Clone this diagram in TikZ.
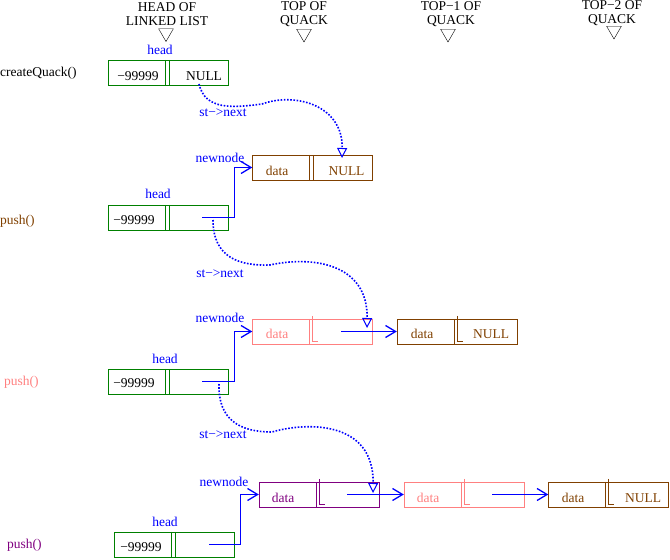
\documentclass[tikz,border=0pt]{standalone}
\usepackage{fontspec}
\setmainfont{Liberation Serif}
\usetikzlibrary{arrows.meta,shapes.geometric}
\definecolor{hgreen}{RGB}{0,128,0}
\definecolor{nbrown}{RGB}{128,64,0}
\definecolor{npink}{RGB}{255,128,128}
\definecolor{npurple}{RGB}{128,0,128}

\begin{document}
\begin{tikzpicture}[x=1pt, y=-1pt,
		every node/.style={inner sep=0pt, font=\fontsize{13.5}{14}\selectfont},
		box/.style={draw, minimum width=120pt, minimum height=25pt},
		lbl/.style={blue},
		tri/.style={draw, regular polygon, regular polygon sides=3, shape border rotate=180, minimum size=17pt},
		ptr/.style={blue, line width=1pt, -{Straight Barb[length=10pt, width=12pt, line width=1.3pt]}},
		nxt/.style={blue, line width=1.6pt, dash pattern=on 1.6pt off 1.6pt, -{Triangle[open, length=10pt, width=10pt, line width=1pt]}}]
			\useasboundingbox (0,0) rectangle (670,560);

			% Headers
			\node[align=center] (thead) at (167,14.5) {HEAD OF\\LINKED LIST};
			\node[align=center] (ttop) at (304,14.5) {TOP OF\\QUACK};
			\node[align=center] (ttop1) at (451,14.5) {TOP−1 OF\\QUACK};
			\node[align=center] (ttop2) at (612,13.5) {TOP−2 OF\\QUACK};
			\node[tri] (vhead) at (166,33) {};
			\node[tri] (vtop) at (304,33.5) {};
			\node[tri] (vtop1) at (448,33.5) {};
			\node[tri] (vtop2) at (614,30.5) {};

			% createQuack()
			\node[anchor=west] (call1) at (0,73) {createQuack()};
			\node[lbl] (head1) at (160,50) {head};
			\node[box, hgreen] (h1) at (168,72.5) {};
			\node (h1v) at (138,76) {−99999};
			\node (h1n) at (204,76) {NULL};
			\node[lbl] (st1) at (223,113) {st−>next};

			% first push()
			\node[anchor=west, nbrown] (call2) at (0,221) {push()};
			\node[lbl] (head2) at (158,194) {head};
			\node[box, hgreen] (h2) at (168,217.5) {};
			\node (h2v) at (134,220) {−99999};
			\node[lbl] (new2) at (220,158) {newnode};
			\node[box, nbrown] (d2) at (312.5,167.5) {};
			\node[nbrown] (d2a) at (277,171) {data};
			\node[nbrown] (d2n) at (346.5,171) {NULL};
			\node[lbl] (st2) at (220,274) {st−>next};

			% second push()
			\node[anchor=west, npink] (call3) at (4,382) {push()};
			\node[lbl] (head3) at (165,359) {head};
			\node[box, hgreen] (h3) at (168,381.5) {};
			\node (h3v) at (134,383) {−99999};
			\node[lbl] (new3) at (220,318) {newnode};
			\node[box, npink] (p3) at (312.5,331.5) {};
			\node[npink] (p3a) at (277,334) {data};
			\node[box, nbrown] (b3) at (457,331.5) {};
			\node[nbrown] (b3a) at (422,334) {data};
			\node[nbrown] (b3n) at (491,334) {NULL};
			\node[lbl] (st3) at (223,435) {st−>next};

			% third push()
			\node[anchor=west, npurple] (call4) at (7,545) {push()};
			\node[lbl] (head4) at (165,522) {head};
			\node[box, hgreen] (h4) at (174,544.5) {};
			\node (h4v) at (141,547) {−99999};
			\node[lbl] (new4) at (224,482) {newnode};
			\node[box, npurple] (u4) at (319,494.5) {};
			\node[npurple] (u4a) at (283,498) {data};
			\node[box, npink] (p4) at (464,494.5) {};
			\node[npink] (p4a) at (428,498) {data};
			\node[box, nbrown] (b4) at (608.5,494.5) {};
			\node[nbrown] (b4a) at (573,498) {data};
			\node[nbrown] (b4n) at (643,498) {NULL};

			% Dividers
			\foreach \b/\c in {h1/hgreen, h2/hgreen, h3/hgreen, h4/hgreen, d2/nbrown} {
				\draw[\c] ([xshift=57pt]\b.north west) -- ([xshift=57pt]\b.south west);
				\draw[\c] ([xshift=61pt]\b.north west) -- ([xshift=61pt]\b.south west);
			}
			\foreach \b/\c in {p3/npink, b3/nbrown, u4/npurple, p4/npink, b4/nbrown} {
				\draw[\c] ([xshift=57pt]\b.north west) -- ([xshift=57pt]\b.south west);
				\draw[\c] ([xshift=60pt, yshift=3pt]\b.north west) |- ([xshift=66pt, yshift=3pt]\b.south west);
			}

			% Pointer starts
			\coordinate (s2) at (202,217.5);
			\coordinate (s3) at (202,381.5);
			\coordinate (s4) at (209,544.5);
			\coordinate (q3) at (341,331.5);
			\coordinate (q4) at (347,494.5);
			\coordinate (r4) at (492,494.5);

			% Arrows
			\draw[ptr] (s2) -- ([xshift=6pt]h2.east) |- (d2.west);
			\draw[ptr] (s3) -- ([xshift=6pt]h3.east) |- (p3.west);
			\draw[ptr] (s4) -- ([xshift=6pt]h4.east) |- (u4.west);
			\draw[ptr] (q3) -- (b3.west);
			\draw[ptr] (q4) -- (p4.west);
			\draw[ptr] (r4) -- (b4.west);

			% st->next
			\draw[nxt] (199,84) .. controls (205,110) and (232,108) .. (262,104)
				.. controls (295,92) and (343,105) .. (342,158);
			\draw[nxt] (213,220) .. controls (213,258) and (240,266) .. (270,265)
				.. controls (310,256) and (368,262) .. (367,328);
			\draw[nxt] (219,384) .. controls (218,420) and (240,432) .. (272,432)
				.. controls (306,422) and (374,420) .. (373,493);
		\end{tikzpicture}
\end{document}
